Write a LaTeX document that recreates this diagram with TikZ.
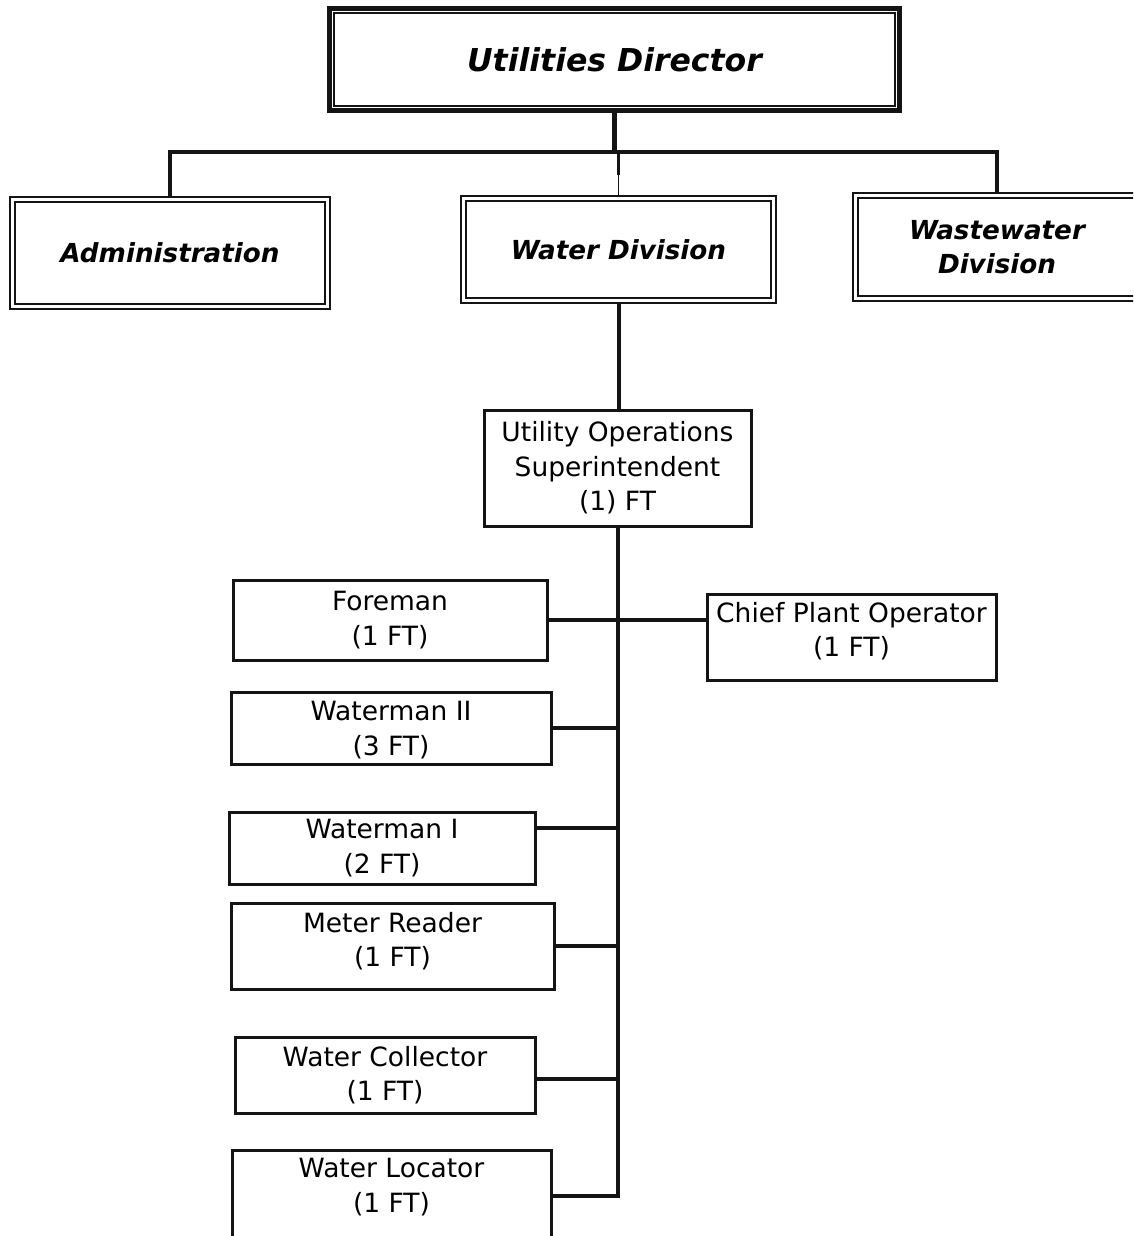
\documentclass[tikz,border=0pt]{standalone}
\usepackage{fontspec}
\setmainfont{DejaVu Sans}[ItalicFont={DejaVu Sans Oblique},BoldFont={DejaVu Sans Bold},BoldItalicFont={DejaVu Sans Bold Oblique}]
\begin{document}
\begin{tikzpicture}[x=1pt,y=-1pt,
  ink/.style={draw=black!92},
  post/.style={ink, rectangle, line width=3pt, inner sep=0pt, align=center,
    font=\fontsize{26.5}{34.5}\selectfont},
  label/.style={inner sep=0pt, align=center, font=\fontsize{26.5}{34.5}\selectfont},
  division/.style={ink, rectangle, line width=2.5pt, inner sep=0pt, align=center,
    font=\fontsize{26.2}{34}\selectfont\bfseries\itshape},
  head/.style={ink, rectangle, line width=5pt, inner sep=0pt, align=center,
    font=\fontsize{31.5}{36}\selectfont\bfseries\itshape},
  innerline/.style={ink, line width=1.8pt},
  link/.style={ink, line width=4pt},
  thinlink/.style={ink, line width=1.8pt},
]
\path[use as bounding box, clip] (0,0) rectangle (1133,1236);

% top of the chart
\node[head, minimum width=570, minimum height=102] (dir) at (614.5,59.5) {Utilities Director};
\draw[innerline, line width=1.5pt] ([shift={(7,7)}]dir.north west) rectangle ([shift={(-7,-7)}]dir.south east);

% divisions
\node[division, minimum width=320, minimum height=112] (adm) at (170,253) {Administration};
\node[division, minimum width=315, minimum height=107] (wd) at (618.5,249.5) {Water Division};
\node[division, minimum width=288, minimum height=108] (ww) at (997,247) {Wastewater\\Division};
\foreach \n in {adm,wd,ww}
  \draw[innerline] ([shift={(6,6)}]\n.north west) rectangle ([shift={(-6,-6)}]\n.south east);

% water division staff
\node[post, minimum width=267, minimum height=116] (sup) at (617.5,468) {Utility Operations\\Superintendent\\(1) FT};
\node[post, minimum width=314, minimum height=80] (fore) at (390,620) {Foreman\\(1 FT)};
\node[post, minimum width=289, minimum height=86] (chief) at (851.5,637) {};
\node[label] (chiefT) at (851.5,631) {Chief Plant Operator\\(1 FT)};
\node[post, minimum width=320, minimum height=72] (wm2) at (391,728) {};
\node[label] (wm2T) at (391,730) {Waterman II\\(3 FT)};
\node[post, minimum width=306, minimum height=72] (wm1) at (382,848) {Waterman I\\(2 FT)};
\node[post, minimum width=323, minimum height=86] (met) at (392.5,946) {};
\node[label] (metT) at (392.5,941) {Meter Reader\\(1 FT)};
\node[post, minimum width=300, minimum height=76] (col) at (385,1075) {Water Collector\\(1 FT)};
\node[post, minimum width=319, minimum height=92] (loc) at (391.5,1196) {};
\node[label] (locT) at (391.5,1187) {Water Locator\\(1 FT)};

% connectors, upper part
\coordinate (bus) at ([yshift=-39pt]dir.south);
\draw[link, line width=5pt] (dir.south) -- (bus);
\draw[link, line width=4.5pt] (adm.north) |- (bus) -| (ww.north);
\coordinate (wdk) at ([yshift=20pt]wd.north);
\draw[thinlink] (bus -| wd.north) -- (wd.north);
\draw[ink, line width=3pt] (bus -| wd.north) -- (wdk);
\draw[link] (wd.south) -- (wd.south |- sup.north);

% connectors, lower part
\draw[link] (sup.south) |- (loc.east);
\draw[link] (fore.east) -- (chief.west |- fore.east);
\draw[link] (wm2.east) -- (wm2.east -| sup.south);
\coordinate (wm1c) at ([yshift=20pt]wm1.east);
\draw[link] (wm1c) -- (wm1c -| sup.south);
\draw[link] (met.east) -- (met.east -| sup.south);
\coordinate (colc) at ([yshift=-4pt]col.east);
\draw[link] (colc) -- (colc -| sup.south);
\end{tikzpicture}
\end{document}
